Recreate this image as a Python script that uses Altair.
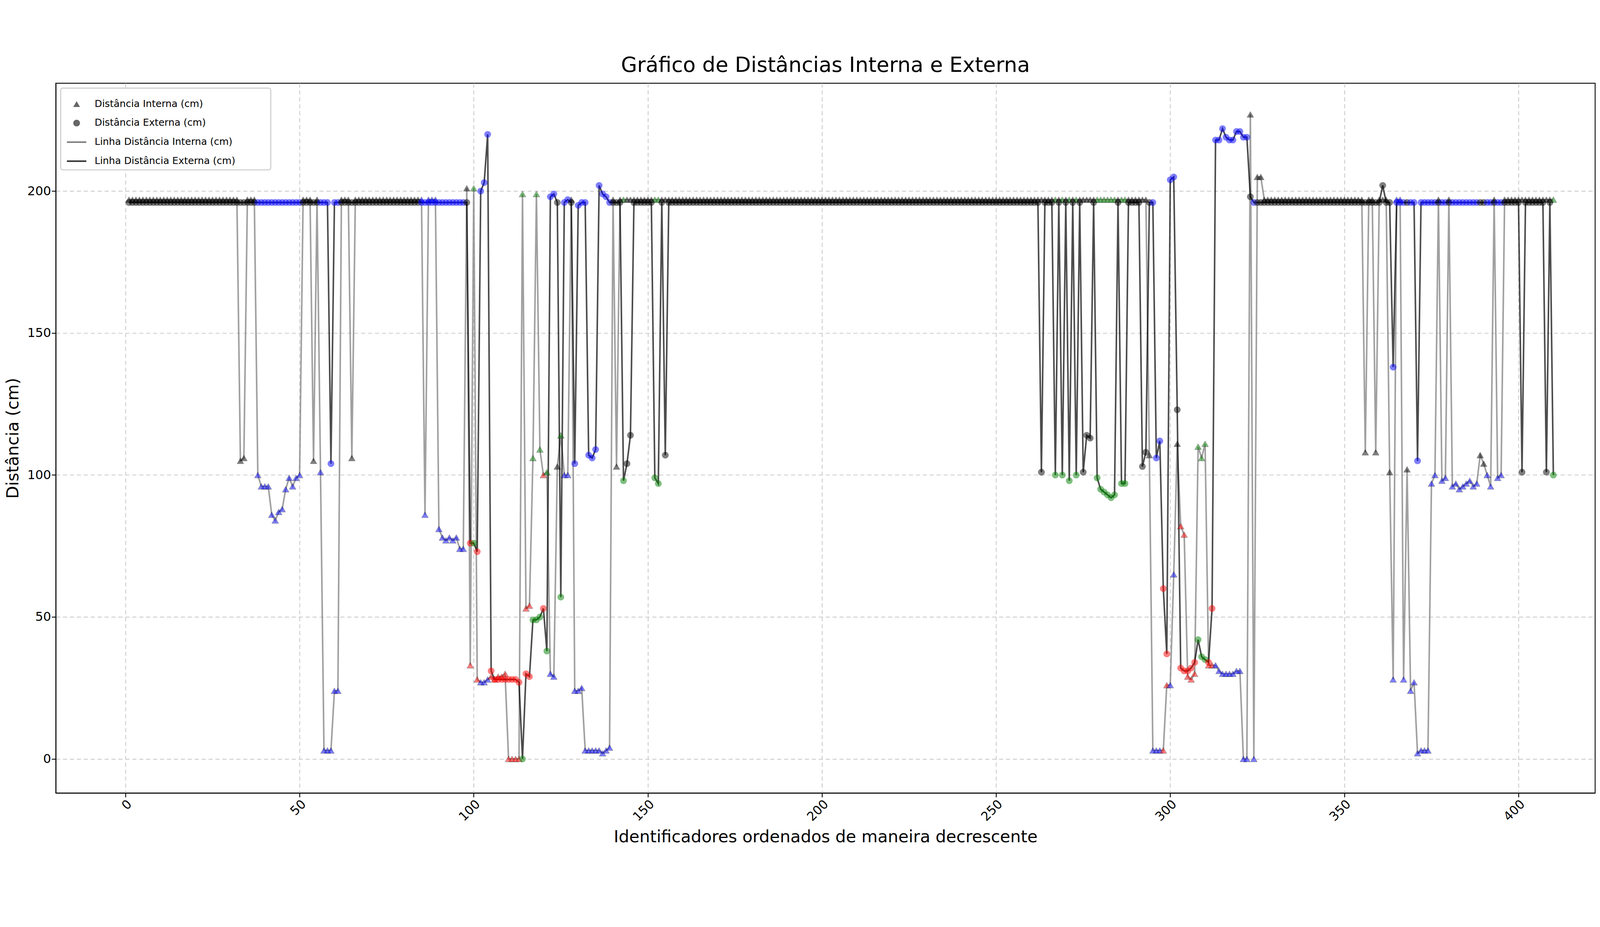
import altair as alt
import pandas as pd

# identifiers 1..410, flat readings with the dips
ids = list(range(1, 411))
base_interna = 197
base_externa = 196

interna_dips = {
    33: 105, 34: 106, 38: 100, 39: 96, 40: 96, 41: 96, 42: 86, 43: 84, 44: 87, 45: 88,
    46: 95, 47: 99, 48: 96, 49: 99, 50: 100, 54: 105, 56: 101, 57: 3, 58: 3, 59: 3,
    60: 24, 61: 24, 65: 106, 86: 86, 90: 81, 91: 78, 92: 77, 93: 78, 94: 77, 95: 78,
    96: 74, 97: 74, 98: 201, 99: 33, 100: 201, 101: 28, 102: 27, 103: 27, 104: 28,
    105: 29, 106: 28, 107: 29, 108: 29, 109: 30, 110: 0, 111: 0, 112: 0, 113: 0,
    114: 199, 115: 53, 116: 54, 117: 106, 118: 199, 119: 109, 120: 100, 121: 101,
    122: 30, 123: 29, 124: 103, 125: 114, 126: 100, 127: 100, 129: 24, 130: 24,
    131: 25, 132: 3, 133: 3, 134: 3, 135: 3, 136: 3, 137: 2, 138: 3, 139: 4, 141: 103,
    294: 107, 295: 3, 296: 3, 297: 3, 298: 3, 299: 26, 300: 26, 301: 65, 302: 111,
    303: 82, 304: 79, 305: 29, 306: 28, 307: 30, 308: 110, 309: 106, 310: 111,
    311: 33, 312: 33, 313: 33, 314: 31, 315: 30, 316: 30, 317: 30, 318: 30, 319: 31,
    320: 31, 321: 0, 322: 0, 323: 227, 324: 0, 325: 205, 326: 205, 356: 108, 359: 108,
    363: 101, 364: 28, 367: 28, 368: 102, 369: 24, 370: 27, 371: 2, 372: 3, 373: 3,
    374: 3, 375: 97, 376: 100, 378: 98, 379: 99, 381: 96, 382: 97, 383: 95, 384: 96,
    385: 97, 386: 98, 387: 96, 388: 97, 389: 107, 390: 104, 391: 100, 392: 96,
    394: 99, 395: 100,
}

externa_dips = {
    59: 104, 99: 76, 100: 76, 101: 73, 102: 200, 103: 203, 104: 220, 105: 31,
    106: 28, 107: 28, 108: 28, 109: 28, 110: 28, 111: 28, 112: 28, 113: 27, 114: 0,
    115: 30, 116: 29, 117: 49, 118: 49, 119: 50, 120: 53, 121: 38, 122: 198, 123: 199,
    125: 57, 127: 197, 129: 104, 130: 195, 133: 107, 134: 106, 135: 109, 136: 202,
    137: 199, 138: 198, 143: 98, 144: 104, 145: 114, 152: 99, 153: 97, 155: 107,
    263: 101, 267: 100, 269: 100, 271: 98, 273: 100, 275: 101, 276: 114, 277: 113,
    279: 99, 280: 95, 281: 94, 282: 93, 283: 92, 284: 93, 286: 97, 287: 97, 292: 103,
    293: 108, 296: 106, 297: 112, 298: 60, 299: 37, 300: 204, 301: 205, 302: 123,
    303: 32, 304: 31, 305: 31, 306: 32, 307: 34, 308: 42, 309: 36, 310: 35, 311: 34,
    312: 53, 313: 218, 314: 218, 315: 222, 316: 219, 317: 218, 318: 218, 319: 221,
    320: 221, 321: 219, 322: 219, 323: 198, 361: 202, 364: 138, 371: 105, 401: 101,
    408: 101, 410: 100,
}

blue_ids = (list(range(38, 51)) + list(range(56, 62)) + list(range(85, 98)) + [102, 103, 104, 122, 123, 126, 127]
            + list(range(129, 140)) + [295, 296, 297, 300, 301] + list(range(313, 323)) + [324]
            + [i for i in range(364, 396) if i not in (368, 377, 380, 389, 390, 393)])
red_ids = [99, 101] + list(range(105, 114)) + [115, 116, 120, 298, 299, 303, 304, 305, 306, 307, 311, 312]
green_ids = ([100, 114, 117, 118, 119, 121, 125, 143, 152, 153, 267, 269, 271, 273]
             + list(range(279, 285)) + [286, 287, 308, 309, 310, 410])

leg_labels = ["Distância Interna (cm)", "Distância Externa (cm)",
              "Linha Distância Interna (cm)", "Linha Distância Externa (cm)"]

rows = []
for i in ids:
    cat = "blue" if i in blue_ids else "red" if i in red_ids else "green" if i in green_ids else "black"
    rows.append({
        "id": i,
        "interna": interna_dips.get(i, base_interna),
        "externa": externa_dips.get(i, base_externa),
        "cat": cat,
    })
df = pd.DataFrame(rows)

x_enc = alt.X("id:Q", scale=alt.Scale(domain=[-20, 422], nice=False),
              axis=alt.Axis(values=[0, 50, 100, 150, 200, 250, 300, 350, 400], labelAngle=-45,
                            title="Identificadores ordenados de maneira decrescente"))
y_scale = alt.Scale(domain=[-12, 238], nice=False)
y_axis = alt.Axis(values=[0, 50, 100, 150, 200], title="Distância (cm)")
cat_color = alt.Color("cat:N", scale=alt.Scale(domain=["black", "blue", "green", "red"],
                                               range=["#000000", "#0000ff", "#008000", "#ff0000"]),
                      legend=None)

base = alt.Chart(df)
line_int = base.mark_line(color="#808080", strokeWidth=4.5, opacity=0.75).encode(
    x=x_enc, y=alt.Y("interna:Q", scale=y_scale, axis=y_axis))
line_ext = base.mark_line(color="#000000", strokeWidth=4.5, opacity=0.7).encode(
    x=x_enc, y=alt.Y("externa:Q"))
pts_int = base.mark_point(shape="triangle-up", filled=True, size=380, opacity=0.5,
                          stroke="#000", strokeWidth=1).encode(x=x_enc, y="interna:Q", color=cat_color)
pts_ext = base.mark_point(shape="circle", filled=True, size=380, opacity=0.5).encode(
    x=x_enc, y="externa:Q", color=cat_color)

# legend box, top left
one = alt.Chart(pd.DataFrame({"a": [0]}))
layers = [line_int, line_ext, pts_int, pts_ext,
          one.mark_rect(fill="white", stroke="#cccccc", strokeWidth=3, cornerRadius=6).encode(
              x=alt.value(14), x2=alt.value(620), y=alt.value(14), y2=alt.value(250))]
row_y = [60, 115, 170, 225]
layers.append(one.mark_point(shape="triangle-up", filled=True, size=380, color="#000", opacity=0.6)
              .encode(x=alt.value(60), y=alt.value(row_y[0])))
layers.append(one.mark_point(shape="circle", filled=True, size=380, color="#000", opacity=0.6)
              .encode(x=alt.value(60), y=alt.value(row_y[1])))
layers.append(one.mark_rule(color="#808080", strokeWidth=4.5)
              .encode(x=alt.value(32), x2=alt.value(88), y=alt.value(row_y[2])))
layers.append(one.mark_rule(color="#333333", strokeWidth=4.5)
              .encode(x=alt.value(32), x2=alt.value(88), y=alt.value(row_y[3])))
for lab, yy in zip(leg_labels, row_y):
    layers.append(one.mark_text(align="left", baseline="middle", fontSize=28, font="DejaVu Sans",
                                text=lab).encode(x=alt.value(112), y=alt.value(yy)))

chart = (
    alt.layer(*layers)
    .properties(
        width=4440, height=2048,
        title=alt.TitleParams("Gráfico de Distâncias Interna e Externa", fontSize=60,
                              fontWeight="normal", font="DejaVu Sans", offset=20),
    )
    .configure_axis(grid=True, gridDash=[12, 8], gridColor="#cccccc", gridWidth=2.5,
                    labelFontSize=36, titleFontSize=48, titleFontWeight="normal",
                    labelFont="DejaVu Sans", titleFont="DejaVu Sans", labelColor="#000",
                    titleColor="#000", domainColor="#000", domainWidth=2.5,
                    tickColor="#000", tickSize=12, tickWidth=2.5, titlePadding=16)
    .configure_view(stroke="#000", strokeWidth=2.5)
)

chart.save("out.html", embed_options={"renderer": "svg", "actions": False})
